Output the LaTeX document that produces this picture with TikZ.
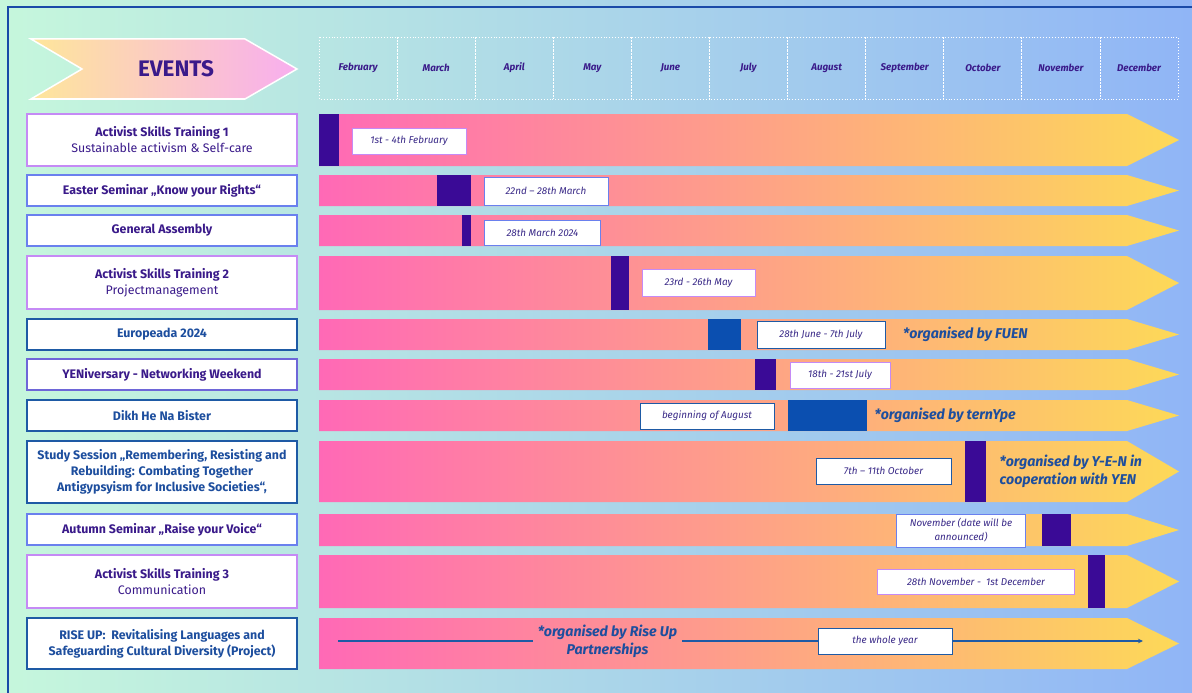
\documentclass[tikz,border=0pt]{standalone}
\usepackage{fontspec}
\setmainfont{Fira Sans}
\usetikzlibrary{arrows.meta}
\definecolor{bgL}{HTML}{C6F7DC}
\definecolor{bgM}{HTML}{AEDAEA}
\definecolor{bgR}{HTML}{90B5F6}
\definecolor{frameblue}{HTML}{1A4AA8}
\definecolor{evY}{HTML}{FEE69A}
\definecolor{evP}{HTML}{F8AEEF}
\definecolor{purpleT}{HTML}{3A1A8A}
\definecolor{blueT}{HTML}{1D4E9E}
\definecolor{dateT}{HTML}{3A2A88}
\definecolor{mpurple}{HTML}{3A0A96}
\definecolor{mblue}{HTML}{0B4FB0}
\definecolor{violetB}{HTML}{C58AF5}
\definecolor{periB}{HTML}{6A80EE}
\definecolor{darkB}{HTML}{1E5AA5}
\definecolor{barL}{HTML}{FF69B6}
\definecolor{barM}{HTML}{FCA486}
\definecolor{barR}{HTML}{FDD958}
\begin{document}
\begin{tikzpicture}[x=1pt,y=-1pt,
  lbl/.style={draw, fill=white, line width=1.2pt, minimum width=270pt, inner sep=0pt,
    align=center, text=purpleT, font=\fontsize{12.4}{16}\selectfont},
  lblblue/.style={lbl, text=blueT, draw=darkB},
  datebox/.style={draw, fill=white, line width=1pt, inner sep=0pt, align=center,
    text=dateT, font=\fontsize{9.9}{14}\selectfont\itshape},
  orgtext/.style={text=blueT, font=\fontsize{14.2}{18}\selectfont\bfseries\itshape, inner sep=0pt},
  monthtext/.style={text=purpleT, font=\fontsize{9.8}{11}\selectfont\bfseries\itshape}
]
\useasboundingbox (0,0) rectangle (1192,693);
\shade[left color=bgL, middle color=bgM, right color=bgR] (0,0) rectangle (1192,693);
\draw[frameblue, line width=2.2pt] (8,700) -- (8,7) -- (1200,7);

% EVENTS chevron
\shadedraw[left color=evY, right color=evP, draw=white, line width=1.5pt]
  (31,39) -- (245,39) -- (297,69) -- (245,99) -- (31,99) -- (82,69) -- cycle;
\node[text=purpleT, font=\fontsize{22.5}{26}\selectfont\bfseries] (events) at (176,69) {EVENTS};

% months
\foreach \m [count=\i from 0] in {February,March,April,May,June,July,August,September,October,November,December}{
  \draw[white, dotted, line width=0.9pt] ({319+78.1*\i},37) rectangle ({319+78.1*(\i+1)},99);
  \node[monthtext] (m\i) at ({319+78.1*(\i+0.5)},68) {\m};
}

% bars
\foreach \a/\b in {114/166,175/206,215/246,256/310,319/350,359/390,400/431,441/502,514/546,555/608,618/669}{
  \shade[left color=barL, middle color=barM, right color=barR]
    (319,\a) -- (1127,\a) -- (1179,{(\a+\b)/2}) -- (1127,\b) -- (319,\b) -- cycle;
}

% markers
\fill[mpurple] (319,114) rectangle (339,166);
\fill[mpurple] (437,175) rectangle (471,206);
\fill[mpurple] (462,215) rectangle (471,246);
\fill[mpurple] (611,256) rectangle (629,310);
\fill[mblue]   (708,319) rectangle (741,350);
\fill[mpurple] (755,359) rectangle (775.5,390);
\fill[mblue]   (787.6,400) rectangle (867,431);
\fill[mpurple] (965,441) rectangle (985.5,502);
\fill[mpurple] (1042,514) rectangle (1071,546);
\fill[mpurple] (1088,555) rectangle (1105,608);

% event labels
\node[lbl, draw=violetB, minimum height=52pt] (e1) at (162,140) {\textbf{Activist Skills Training 1}\\Sustainable activism \& Self-care};
\node[lbl, draw=periB, minimum height=31pt] (e2) at (162,190.5) {\textbf{Easter Seminar „Know your Rights“}};
\node[lbl, draw=periB, minimum height=31pt] (e3) at (162,230.5) {\textbf{General Assembly}};
\node[lbl, draw=violetB, minimum height=53pt] (e4) at (162,282.5) {\textbf{Activist Skills Training 2}\\Projectmanagement};
\node[lblblue, minimum height=31pt] (e5) at (162,334.5) {\textbf{Europeada 2024}};
\node[lbl, draw=periB!80!violet, minimum height=31pt] (e6) at (162,374.5) {\textbf{YENiversary - Networking Weekend}};
\node[lblblue, minimum height=31pt] (e7) at (162,415.5) {\textbf{Dikh He Na Bister}};
\node[lblblue, minimum height=62pt] (e8) at (162,472) {\textbf{Study Session „Remembering, Resisting and}\\\textbf{Rebuilding: Combating Together}\\\textbf{Antigypsyism for Inclusive Societies“,}};
\node[lbl, draw=periB, minimum height=31pt] (e9) at (162,529.5) {\textbf{Autumn Seminar „Raise your Voice“}};
\node[lbl, draw=violetB, minimum height=53pt] (e10) at (162,581.5) {\textbf{Activist Skills Training 3}\\Communication};
\node[lblblue, minimum height=51pt] (e11) at (162,643.5) {\textbf{RISE UP:\ \ Revitalising Languages and}\\\textbf{Safeguarding Cultural Diversity (Project)}};

% date boxes
\node[datebox, draw=violetB, minimum width=114pt, minimum height=26pt] (d1) at (409,141) {1st - 4th February};
\node[datebox, draw=periB, minimum width=124pt, minimum height=28pt] (d2) at (546,191) {22nd – 28th March};
\node[datebox, draw=periB, minimum width=116pt, minimum height=25pt] (d3) at (542.5,232.5) {28th March 2024};
\node[datebox, draw=violetB, minimum width=113pt, minimum height=27pt] (d4) at (698.5,282.5) {23rd - 26th May};
\node[datebox, draw=darkB, minimum width=128pt, minimum height=27pt] (d5) at (821,334.5) {28th June - 7th July};
\node[datebox, draw=violetB, minimum width=100pt, minimum height=26pt] (d6) at (840,375) {18th - 21st July};
\node[datebox, draw=darkB, minimum width=134pt, minimum height=26pt] (d7) at (707,416) {beginning of August};
\node[datebox, draw=darkB, minimum width=135pt, minimum height=26pt] (d8) at (883.5,471) {7th – 11th October};
\node[datebox, draw=periB, minimum width=128.5pt, minimum height=33pt] (d9) at (961,530.5) {November (date will be\\announced)};
\node[datebox, draw=violetB, minimum width=197.5pt, minimum height=25pt] (d10) at (976,581.5) {28th November -\ \ 1st December};
\node[datebox, draw=darkB, minimum width=134pt, minimum height=26pt] (d11) at (885,641) {the whole year};

% organiser notes
\node[orgtext, anchor=west] (o5) at (903,334) {*organised by FUEN};
\node[orgtext, anchor=west] (o7) at (874.5,415) {*organised by ternYpe};
\node[orgtext, anchor=west, align=left] (o8) at (999.5,471) {*organised by Y-E-N in\\cooperation with YEN};
\node[orgtext, align=center, minimum width=149pt] (o11) at (607.5,641) {*organised by Rise Up\\Partnerships};

% whole-year line
\coordinate (ls) at (338,641);
\coordinate (le) at (1143,641);
\draw[darkB, line width=1.1pt] (ls) -- (o11.west);
\draw[darkB, line width=1.1pt] (o11.east) -- (d11.west);
\draw[darkB, line width=1.1pt, -{Stealth[length=5pt,width=4.5pt]}] (d11.east) -- (le);
\end{tikzpicture}
\end{document}
